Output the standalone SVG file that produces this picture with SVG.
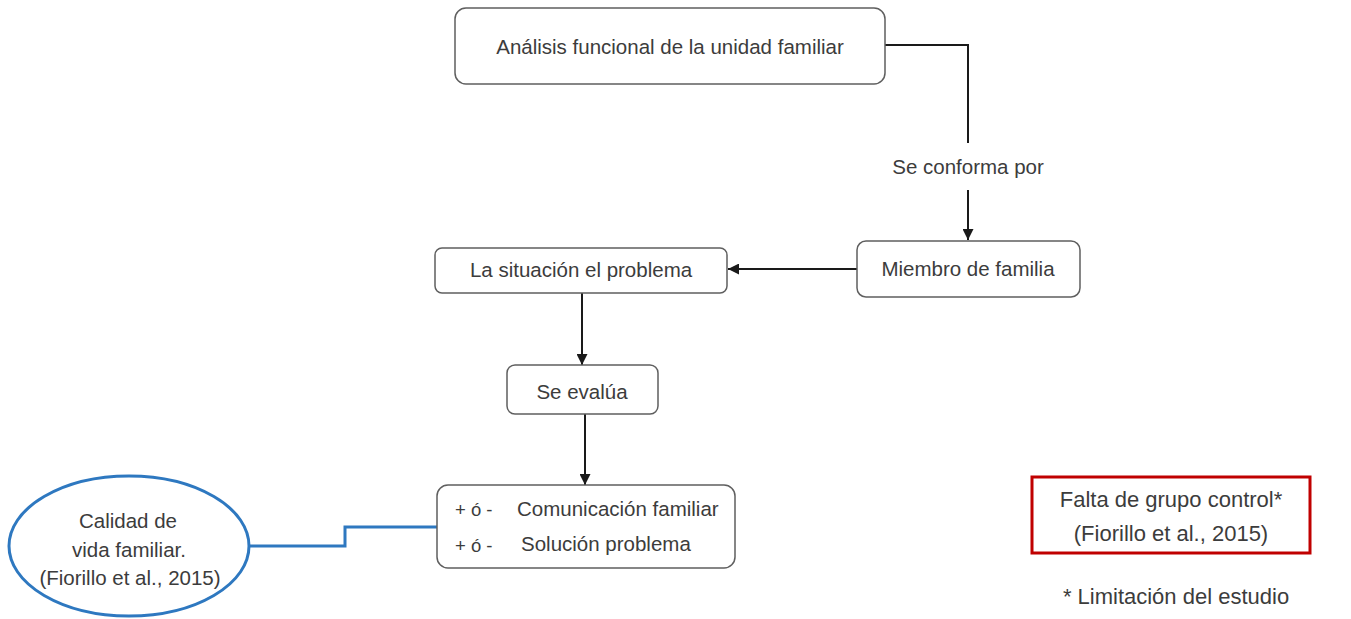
<svg xmlns="http://www.w3.org/2000/svg" width="1351" height="619" viewBox="0 0 1351 619">
  <style>
    text { font-family: "Liberation Sans", Arial, sans-serif; font-size: 20.5px; fill: #3c3c3c; }
    text.sign { font-size: 18.5px; }
    text.big { font-size: 22px; }
    .box { fill: #ffffff; stroke: #5f5f5f; stroke-width: 1.5; }
    .link { fill: none; stroke: #1a1a1a; stroke-width: 2; }
    .blue { fill: none; stroke: #2e78c0; stroke-width: 3; }
  </style>
  <defs>
    <marker id="arrow" viewBox="0 0 10 10" refX="10" refY="5" markerWidth="11" markerHeight="11" markerUnits="userSpaceOnUse" orient="auto">
      <path d="M0,0 L10,5 L0,10 z" fill="#1a1a1a"/>
    </marker>
  </defs>
  <rect width="1351" height="619" fill="#ffffff"/>

  <g id="connectors">
    <path class="link" d="M885,45 H968 V143"/>
    <path class="link" d="M968,190 V240" marker-end="url(#arrow)"/>
    <path class="link" d="M857,269 H728" marker-end="url(#arrow)"/>
    <path class="link" d="M582,293 V365" marker-end="url(#arrow)"/>
    <path class="link" d="M585,414 V485" marker-end="url(#arrow)"/>
    <path class="blue" d="M249,546 H345 V527 H437"/>
  </g>

  <g id="analisis">
    <rect class="box" x="455" y="8" width="430" height="76" rx="11"/>
    <text x="670" y="54" text-anchor="middle">Análisis funcional de la unidad familiar</text>
  </g>

  <g id="se-conforma">
    <text x="968" y="174" text-anchor="middle">Se conforma por</text>
  </g>

  <g id="miembro">
    <rect class="box" x="857" y="241" width="223" height="56" rx="9"/>
    <text x="968" y="276" text-anchor="middle">Miembro de familia</text>
  </g>

  <g id="situacion">
    <rect class="box" x="435" y="248" width="292" height="45" rx="7"/>
    <text x="581" y="277" text-anchor="middle">La situación el problema</text>
  </g>

  <g id="evalua">
    <rect class="box" x="507" y="365" width="151" height="49" rx="8"/>
    <text x="582" y="399" text-anchor="middle">Se evalúa</text>
  </g>

  <g id="comunicacion">
    <rect class="box" x="437" y="485" width="298" height="83" rx="11"/>
    <text class="sign" x="455" y="516">+ ó -</text>
    <text x="517" y="516">Comunicación familiar</text>
    <text class="sign" x="455" y="552">+ ó -</text>
    <text x="521" y="551">Solución problema</text>
  </g>

  <g id="calidad">
    <ellipse cx="129" cy="546" rx="120" ry="70" fill="#ffffff" stroke="#2e78c0" stroke-width="3"/>
    <text x="128" y="528" text-anchor="middle">Calidad de</text>
    <text x="129" y="557" text-anchor="middle">vida familiar.</text>
    <text x="130" y="585" text-anchor="middle">(Fiorillo et al., 2015)</text>
  </g>

  <g id="limitacion">
    <rect x="1032" y="477" width="278" height="76" fill="#ffffff" stroke="#c00000" stroke-width="3"/>
    <text class="big" x="1171" y="507" text-anchor="middle">Falta de grupo control*</text>
    <text class="big" x="1171" y="541" text-anchor="middle">(Fiorillo et al., 2015)</text>
  </g>

  <g id="nota">
    <text class="big" x="1176" y="604" text-anchor="middle">* Limitación del estudio</text>
  </g>
</svg>
